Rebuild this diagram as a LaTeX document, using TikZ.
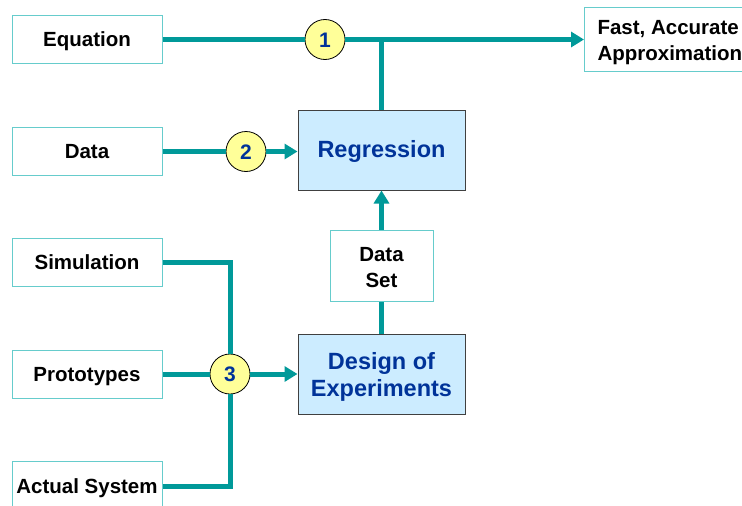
\documentclass[tikz,border=0pt]{standalone}
\usepackage{fontspec}
\setmainfont{Liberation Sans}
\usetikzlibrary{arrows.meta}
\definecolor{teal1}{HTML}{009999}
\definecolor{boxedge}{HTML}{66CCCC}
\definecolor{bluefill}{HTML}{CCECFF}
\definecolor{darkblue}{HTML}{003399}
\definecolor{circfill}{HTML}{FFFF99}
\begin{document}
\begin{tikzpicture}[x=1pt,y=-1pt,
  txt/.style={font=\bfseries\fontsize{20.5}{26}\selectfont,align=center},
  one/.style={text height=14.7pt,text depth=0pt},
  inbox/.style={txt,draw=boxedge,fill=white,line width=1pt,minimum width=150pt,minimum height=48pt,inner sep=0pt},
  bluetxt/.style={font=\bfseries\fontsize{23.5}{27}\selectfont,text=darkblue,align=center},
  procbox/.style={draw=black!75,fill=bluefill,line width=1pt,minimum width=167pt,minimum height=80pt,inner sep=0pt,bluetxt},
  numc/.style={circle,draw=black,fill=circfill,line width=0.8pt,minimum size=40pt,inner sep=0pt,font=\bfseries\fontsize{21}{22}\selectfont,text=darkblue,text height=15pt,text depth=0pt},
  conn/.style={draw=teal1,line width=5pt},
  arr/.style={conn,-{Triangle[length=13pt,width=15pt]}}]
\useasboundingbox (0,0) rectangle (742,506);
\clip (0,0) rectangle (742,506);
% input boxes
\node[inbox,one] (eq) at (87,39.5) {Equation};
\node[inbox,one] (data) at (87,151.5) {Data};
\node[inbox,one] (sim) at (87,262) {Simulation};
\node[inbox,one] (proto) at (87,374) {Prototypes};
\node[inbox,minimum height=60pt,anchor=north] (act) at (87,461) {};
\node[txt,one] (acttxt) at (87,486.5) {Actual System};
% output
\node[inbox,minimum width=170pt,minimum height=64pt,anchor=north west] (fast) at (584,7) {};
\node[txt,align=left,anchor=west] (fasttxt) at (594,43) {Fast, Accurate\\Approximation};
% process boxes
\node[procbox,text height=15pt,text depth=0pt] (reg) at (381.5,150) {Regression};
\node[procbox,label={[bluetxt,yshift=-3pt]center:Design of\\Experiments}] (doe) at (381.5,374) {};
\node[inbox,minimum width=103pt,minimum height=71pt,label={[txt,yshift=-2pt]center:Data\\Set}] (ds) at (381.5,265.5) {};
% circles
\node[numc] (c1) at (325,39.5) {1};
\node[numc] (c2) at (246,151.5) {2};
\node[numc] (c3) at (230,374) {3};
\coordinate (j1) at (381.5,39.5);
% connectors
\draw[conn] (eq.east) -- (c1.west);
\draw[arr] (c1.east) -- (fast.west |- c1.east);
\draw[conn] (reg.north) -- (j1);
\draw[conn] (data.east) -- (c2.west);
\draw[arr] (c2.east) -- (reg.west |- c2.east);
\draw[arr] (ds.north) -- (reg.south);
\draw[conn] (doe.north) -- (ds.south);
\draw[conn] (sim.east) -| (c3.north);
\draw[conn] (act.east |- acttxt) -| (c3.south);
\draw[conn] (proto.east) -- (c3.west);
\draw[arr] (c3.east) -- (doe.west);
\end{tikzpicture}
\end{document}
